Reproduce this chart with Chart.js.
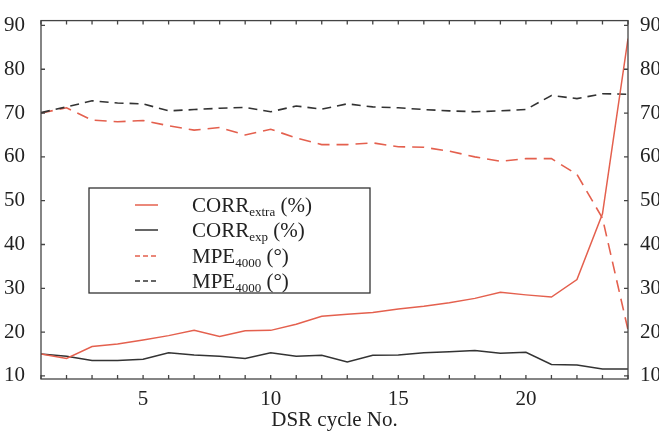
<!DOCTYPE html>
<html>
<head>
<meta charset="utf-8">
<script src="https://cdn.jsdelivr.net/npm/chart.js@4.4.1/dist/chart.umd.min.js"></script>
<style>
  html, body { margin: 0; padding: 0; background: #fff; }
</style>
</head>
<body>
<canvas id="myChart" width="659" height="433"></canvas>
<script>
var cycles = [1, 2, 3, 4, 5, 6, 7, 8, 9, 10, 11, 12, 13, 14, 15, 16, 17, 18, 19, 20, 21, 22, 23, 24];
var corrExtra = [15.0, 14.0, 16.7, 17.3, 18.2, 19.2, 20.4, 19.0, 20.3, 20.4, 21.8, 23.6, 24.1, 24.5, 25.3, 25.9, 26.7, 27.7, 29.1, 28.5, 28.0, 32.0, 47.0, 87.0];
var corrExp = [15.0, 14.5, 13.5, 13.5, 13.8, 15.3, 14.8, 14.5, 14.0, 15.3, 14.5, 14.7, 13.2, 14.7, 14.8, 15.3, 15.5, 15.8, 15.2, 15.4, 12.6, 12.5, 11.6, 11.6];
var mpeRed = [70.0, 71.2, 68.4, 68.0, 68.3, 67.1, 66.1, 66.7, 65.0, 66.3, 64.3, 62.8, 62.8, 63.2, 62.3, 62.2, 61.3, 60.0, 59.0, 59.6, 59.6, 56.0, 46.0, 20.5];
var mpeBlack = [70.1, 71.4, 72.8, 72.3, 72.1, 70.5, 70.8, 71.1, 71.3, 70.3, 71.6, 70.9, 72.1, 71.4, 71.2, 70.8, 70.5, 70.3, 70.5, 70.8, 74.0, 73.3, 74.4, 74.3];
var yTicks = [10, 20, 30, 40, 50, 60, 70, 80, 90];
var xLabelTicks = [5, 10, 15, 20];
var legendNames = ['CORR', 'CORR', 'MPE', 'MPE'];
var legendSubs = ['extra', 'exp', '4000', '4000'];
var legendUnits = [' (%)', ' (%)', ' (°)', ' (°)'];

var red = '#e4604e';
var dark = '#333333';
var serif = "'Liberation Serif', 'DejaVu Serif', serif";

function pts(vals) {
    return cycles.map(function (c, i) { return { x: c, y: vals[i] }; });
}

// inward ticks, frame and the boxed legend with subscripts
var frameAndLegend = {
    id: 'frameAndLegend',
    afterDraw: function (chart) {
        var ctx = chart.ctx, a = chart.chartArea;
        var xs = chart.scales.x, ys = chart.scales.y;
        ctx.save();
        ctx.strokeStyle = '#444';
        ctx.lineWidth = 1.3;
        ctx.setLineDash([]);
        ctx.strokeRect(a.left, a.top, a.right - a.left, a.bottom - a.top);
        ctx.beginPath();
        cycles.forEach(function (c) {
            var px = xs.getPixelForValue(c);
            ctx.moveTo(px, a.bottom); ctx.lineTo(px, a.bottom - 4);
            ctx.moveTo(px, a.top); ctx.lineTo(px, a.top + 4);
        });
        yTicks.forEach(function (v) {
            var py = ys.getPixelForValue(v);
            ctx.moveTo(a.left, py); ctx.lineTo(a.left + 4, py);
            ctx.moveTo(a.right, py); ctx.lineTo(a.right - 4, py);
        });
        ctx.stroke();

        // legend box
        var bx = 89, by = 188, bw = 281, bh = 105;
        ctx.fillStyle = '#fff';
        ctx.fillRect(bx, by, bw, bh);
        ctx.strokeStyle = '#333';
        ctx.lineWidth = 1.3;
        ctx.strokeRect(bx, by, bw, bh);
        var rows = [205, 230, 256, 281];
        chart.data.datasets.forEach(function (ds, i) {
            var y = rows[i];
            ctx.beginPath();
            ctx.strokeStyle = ds.borderColor;
            ctx.lineWidth = 1.5;
            ctx.setLineDash(ds.borderDash ? [5, 3] : []);
            ctx.moveTo(135, y); ctx.lineTo(158, y);
            ctx.stroke();
            ctx.setLineDash([]);
            ctx.fillStyle = '#222';
            ctx.textBaseline = 'alphabetic';
            ctx.font = '21px ' + serif;
            var tx = 192, base = y + 7;
            ctx.fillText(legendNames[i], tx, base);
            tx += ctx.measureText(legendNames[i]).width;
            ctx.font = '13px ' + serif;
            ctx.fillText(legendSubs[i], tx, base + 4);
            tx += ctx.measureText(legendSubs[i]).width;
            ctx.font = '21px ' + serif;
            ctx.fillText(legendUnits[i], tx, base);
        });
        ctx.restore();
    }
};

var tickFont = { family: serif, size: 21 };

var ctx = document.getElementById('myChart');
var myChart = new Chart(ctx, {
    type: 'line',
    data: {
        datasets: [{
            label: 'CORR extra (%)',
            data: pts(corrExtra),
            borderColor: red,
            borderWidth: 1.5,
            pointRadius: 0,
            order: 1
        }, {
            label: 'CORR exp (%)',
            data: pts(corrExp),
            borderColor: dark,
            borderWidth: 1.5,
            pointRadius: 0,
            order: 2
        }, {
            label: 'MPE 4000 (°)',
            data: pts(mpeRed),
            borderColor: red,
            borderWidth: 1.6,
            borderDash: [12, 7],
            pointRadius: 0,
            order: 4
        }, {
            label: 'MPE 4000 (°)',
            data: pts(mpeBlack),
            borderColor: dark,
            borderWidth: 1.6,
            borderDash: [9, 6],
            pointRadius: 0,
            order: 3
        }]
    },
    options: {
        responsive: false,
        animation: false,
        devicePixelRatio: 1,
        layout: { padding: { top: 16, left: 0, right: 0, bottom: 0 } },
        plugins: {
            legend: { display: false },
            tooltip: { enabled: false }
        },
        scales: {
            x: {
                type: 'linear',
                min: 1,
                max: 24,
                grid: { display: false },
                border: { display: false },
                afterFit: function (s) { s.height = 54; },
                ticks: {
                    stepSize: 1,
                    autoSkip: false,
                    maxRotation: 0,
                    padding: 0,
                    color: '#222',
                    font: tickFont,
                    callback: function (v) { return xLabelTicks.indexOf(v) >= 0 ? String(v) : ''; }
                },
                title: {
                    display: true,
                    text: 'DSR cycle No.',
                    color: '#222',
                    font: { family: serif, size: 21 },
                    padding: { top: 0, bottom: 0 }
                }
            },
            y: {
                position: 'left',
                min: 9.3,
                max: 91.1,
                grid: { display: false },
                border: { display: false },
                afterBuildTicks: function (s) { s.ticks = yTicks.map(function (v) { return { value: v }; }); },
                afterFit: function (s) { s.width = 41; },
                ticks: { padding: 8, color: '#222', font: tickFont }
            },
            y2: {
                position: 'right',
                min: 9.3,
                max: 91.1,
                grid: { display: false },
                border: { display: false },
                afterBuildTicks: function (s) { s.ticks = yTicks.map(function (v) { return { value: v }; }); },
                afterFit: function (s) { s.width = 31; },
                ticks: { padding: 4, color: '#222', font: tickFont }
            }
        }
    },
    plugins: [frameAndLegend]
});
</script>
</body>
</html>
